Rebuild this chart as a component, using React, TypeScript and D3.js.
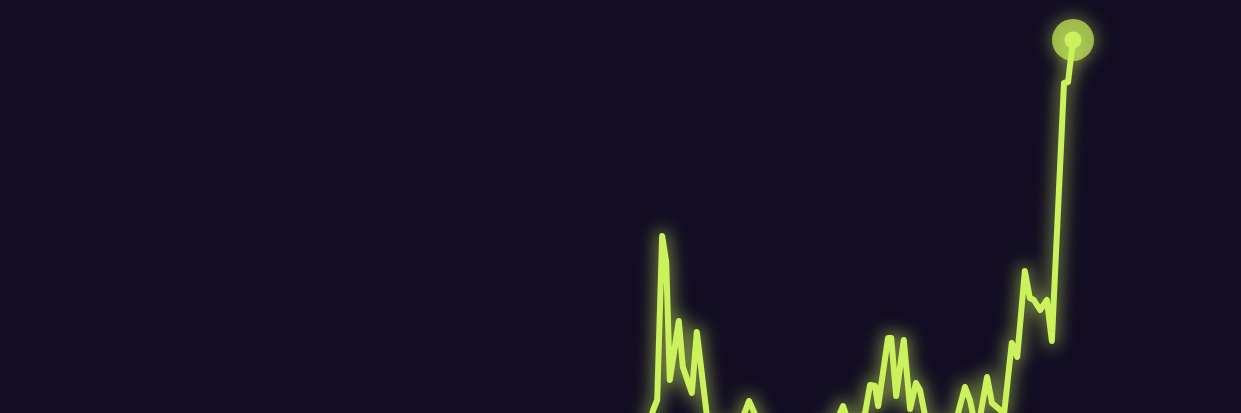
import React from "react";
import * as d3 from "d3";

const WIDTH = 1241;
const HEIGHT = 413;

// day index of each observation (irregular sampling)
const days: number[] = [
  0, 12, 25, 38, 50, 63, 75, 88, 100, 112, 125, 135, 142.9,
  144.7, 145.6, 146.7, 147.6, 148.4, 150.4, 151.3, 153.3, 154.4, 156.7,
  158.4, 161.3, 164.0, 166.0, 167.1, 168.9, 172.9, 177.3, 181.8, 185.1,
  186.9, 187.8, 190.0, 191.8, 192.9, 194.0, 194.7, 196.9, 197.6, 198.7,
  200.4, 201.8, 203.1, 204.0, 205.1, 207.3, 210.7, 212.4, 214.0, 215.1,
  215.8, 217.3, 218.9, 220.0, 221.8, 222.7, 224.4, 225.6, 227.3, 228.4,
  229.3, 230.7, 232.2, 233.3, 236.0, 236.9, 238.0,
];

// value of each observation
const values: number[] = [
  3, 4, 2.5, 5, 3.5, 4.5, 3, 5.5, 4, 6, 5, 7, 10,
  17.5, 20, 61, 54.5, 25, 39.75, 28.25, 21.75, 37, 15.5,
  12, 13, 13.75, 19.75, 17, 12.5, 10, 11.25, 12, 13.75,
  18.5, 15.5, 13.75, 16.75, 23.75, 23.5, 18.5, 35.5, 35.5, 21,
  35, 17.75, 24.25, 22.5, 16.25, 13.75, 13, 16.5, 23.25, 20,
  16.25, 15.5, 25.75, 19.25, 17.5, 16.75, 34.25, 30.75, 52.25, 45.5,
  45, 42.5, 45, 34.75, 99.25, 99.5, 110,
];

const DAY_DOMAIN: [number, number] = [0, 238];
const VALUE_DOMAIN: [number, number] = [0, 110];

const LINE_COLOR = "#cbf25c";
const BG = "#120d22";

export default function App() {
  const x = d3.scaleLinear().domain(DAY_DOMAIN).range([2, 1073]);
  const y = d3.scaleLinear().domain(VALUE_DOMAIN).range([480, 40]);

  const pts = days.map((d, i) => [d, values[i]] as [number, number]);
  const line = d3
    .line<[number, number]>()
    .x((p) => x(p[0]))
    .y((p) => y(p[1]));
  const path = line(pts) || "";

  const last = pts[pts.length - 1];
  const cx = x(last[0]);
  const cy = y(last[1]);

  return (
    <svg
      width={WIDTH}
      height={HEIGHT}
      style={{ position: "fixed", left: 0, top: 0, display: "block", background: BG }}
    >
      <defs>
        <filter id="glow2" x="-100%" y="-100%" width="300%" height="300%">
          <feGaussianBlur in="SourceGraphic" stdDeviation="8" />
        </filter>
      </defs>
      <rect x={0} y={0} width={WIDTH} height={HEIGHT} fill={BG} />
      <path
        d={path}
        fill="none"
        stroke={LINE_COLOR}
        strokeOpacity={0.45}
        strokeWidth={14}
        strokeLinejoin="round"
        filter="url(#glow2)"
      />
      <circle cx={cx} cy={cy} r={24} fill={LINE_COLOR} fillOpacity={0.35} filter="url(#glow2)" />
      <path
        d={path}
        fill="none"
        stroke={LINE_COLOR}
        strokeWidth={6}
        strokeLinejoin="round"
        strokeLinecap="round"
      />
      <circle cx={cx} cy={cy} r={21} fill={LINE_COLOR} fillOpacity={0.68} />
      <circle cx={cx} cy={cy} r={8.5} fill={LINE_COLOR} />
    </svg>
  );
}
